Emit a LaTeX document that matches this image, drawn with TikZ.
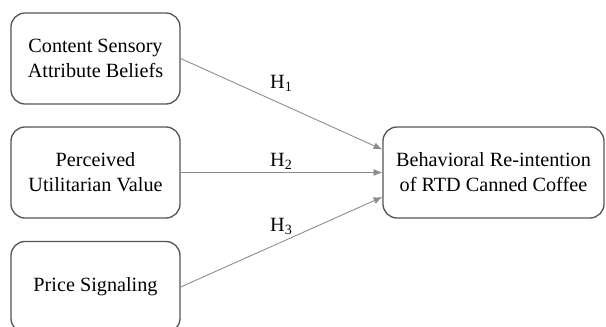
\documentclass[tikz,border=0pt]{standalone}
\usepackage{fontspec}
\setmainfont{Liberation Serif}
\usepackage{xcolor}
\definecolor{boxline}{RGB}{85,85,85}
\definecolor{arrline}{RGB}{140,140,140}
\usetikzlibrary{arrows.meta,positioning,calc}
\tikzset{
  ivbox/.style={draw=boxline, line width=0.75pt, rounded corners=8pt, fill=white,
                font=\fontsize{11.5}{14.2}\selectfont, align=center,
                minimum width=3.38cm, minimum height=1.82cm},
  dvbox/.style={draw=boxline, line width=0.75pt, rounded corners=8pt, fill=white,
                font=\fontsize{11.5}{14.2}\selectfont, align=center,
                minimum width=4.42cm, minimum height=1.82cm},
  hyp/.style={draw=arrline, line width=0.5pt, -{Latex[length=5pt,width=4pt]}},
  hlab/.style={font=\fontsize{11.5}{14.2}\selectfont, inner sep=1pt},
}

\begin{document}
\begin{tikzpicture}
\useasboundingbox (0,0) rectangle (12.12,6.52);
% Left column: independent variables
\node[ivbox] (csab) at (1.91, 5.35) {Content Sensory\\Attribute Beliefs};
\node[ivbox] (puv) at (1.91, 3.07) {Perceived\\Utilitarian Value};
\node[ivbox] (ps) at (1.91, 0.78) {Price Signaling};

% Right: dependent variable
\node[dvbox] (bri) at (9.87, 3.07) {Behavioral Re-intention\\of RTD Canned Coffee};

% Hypothesised paths
\draw[hyp] (csab.east) -- ([yshift=0.46cm]bri.west)
  node[hlab, midway, yshift=0.42cm] {H\textsubscript{1}};
\draw[hyp] (puv.east) -- (bri.west)
  node[hlab, midway, yshift=0.23cm] {H\textsubscript{2}};
\draw[hyp] (ps.east) -- ([yshift=-0.49cm]bri.west)
  node[hlab, midway, yshift=0.31cm] {H\textsubscript{3}};
\end{tikzpicture}
\end{document}
